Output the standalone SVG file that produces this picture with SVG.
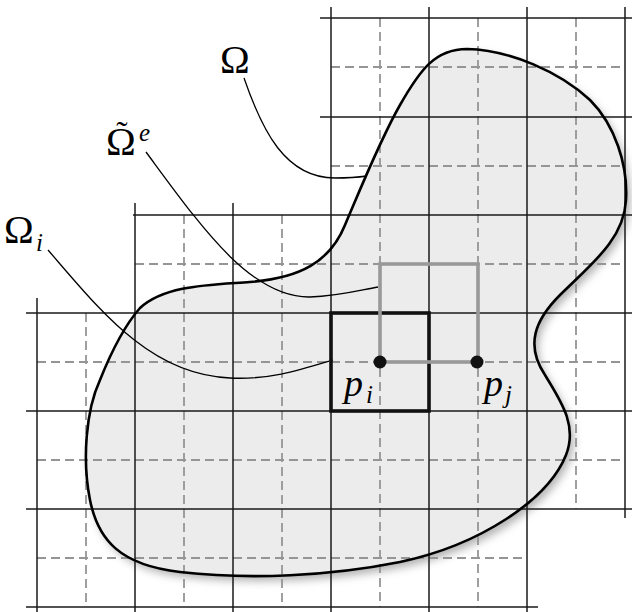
<svg xmlns="http://www.w3.org/2000/svg" width="632" height="612" viewBox="0 0 632 612">
<defs>
<filter id="shadow" x="-10%" y="-10%" width="130%" height="130%">
<feDropShadow dx="4" dy="5" stdDeviation="4" flood-color="#000" flood-opacity="0.3"/>
</filter>
<path id="omega-path" d="M 467,49 C 510,50 560,72 590,100 C 615,125 628,165 626,200 C 624,240 590,265 560,295 C 535,320 525,345 545,375 C 560,400 578,425 566,455 C 548,500 480,545 400,562 C 330,576 250,580 180,572 C 120,565 98,540 90,500 C 82,460 86,410 100,380 C 112,350 125,325 140,308 C 165,285 210,285 250,282 C 300,278 330,262 345,225 C 360,190 380,140 400,105 C 420,70 435,49 467,49 Z"/>
</defs>
<style>
.g{stroke:#1a1a1a;stroke-width:1.5;fill:none}
.d{stroke:#959595;stroke-width:1.8;stroke-dasharray:9 5;fill:none}
.lead{stroke:#000;stroke-width:1.3;fill:none}
.t{font-family:"Liberation Serif","DejaVu Serif",serif;fill:#000}
.it{font-style:italic}
</style>
<rect width="632" height="612" fill="#fff"/>
<g id="omega-fill">
<use href="#omega-path" fill="#ececec" filter="url(#shadow)"/>
</g>
<g id="grid">
<g class="d">
<line x1="86" y1="313" x2="86" y2="607"/>
<line x1="184" y1="215" x2="184" y2="607"/>
<line x1="282" y1="215" x2="282" y2="607"/>
<line x1="380" y1="18" x2="380" y2="607"/>
<line x1="478" y1="18" x2="478" y2="607"/>
<line x1="576" y1="18" x2="576" y2="509"/>
<line x1="331" y1="67" x2="625" y2="67"/>
<line x1="331" y1="166" x2="625" y2="166"/>
<line x1="135" y1="264" x2="625" y2="264"/>
<line x1="37" y1="362" x2="625" y2="362"/>
<line x1="37" y1="460" x2="625" y2="460"/>
<line x1="37" y1="558" x2="527" y2="558"/>
</g>
<g class="g">
<line x1="37" y1="298" x2="37" y2="612"/>
<line x1="135" y1="203" x2="135" y2="612"/>
<line x1="233" y1="203" x2="233" y2="612"/>
<line x1="331" y1="7" x2="331" y2="612"/>
<line x1="429" y1="7" x2="429" y2="612"/>
<line x1="527" y1="7" x2="527" y2="612"/>
<line x1="625" y1="7" x2="625" y2="518"/>
<line x1="320" y1="18" x2="632" y2="18"/>
<line x1="320" y1="117" x2="632" y2="117"/>
<line x1="133" y1="215" x2="632" y2="215"/>
<line x1="26" y1="313" x2="632" y2="313"/>
<line x1="26" y1="411" x2="632" y2="411"/>
<line x1="26" y1="509" x2="632" y2="509"/>
<line x1="26" y1="607" x2="538" y2="607"/>
</g>
</g>
<g id="omega">
<use href="#omega-path" fill="none" stroke="#000" stroke-width="2.6"/>
</g>
<g id="connectors">
<path class="lead" d="M 244,78 C 262,130 285,178 335,178 C 350,178 360,177 367,176"/>
<path class="lead" d="M 146,152 C 200,225 250,298 310,297 C 340,296 360,290 378,287"/>
<path class="lead" d="M 48,250 C 100,310 150,375 230,378 C 270,380 300,370 333,360"/>
</g>
<g id="omega-i-cell">
<rect x="331" y="313" width="98" height="98" fill="none" stroke="#111" stroke-width="3.6"/>
</g>
<g id="omega-e-cell">
<rect x="380" y="264" width="98" height="98" fill="none" stroke="#999" stroke-width="3.6"/>
</g>
<g id="p-i">
<circle cx="380" cy="362" r="6.5" fill="#111"/>
<text class="t it" x="344" y="396" font-size="38">p</text>
<text class="t it" x="366" y="403" font-size="25">i</text>
</g>
<g id="p-j">
<circle cx="477" cy="362" r="6.5" fill="#111"/>
<text class="t it" x="484" y="396" font-size="38">p</text>
<text class="t it" x="505" y="403" font-size="25">j</text>
</g>
<g id="label-omega">
<text class="t" x="220" y="73" font-size="40">Ω</text>
</g>
<g id="label-omega-e">
<text class="t" x="106" y="155" font-size="40">Ω</text>
<text class="t" x="122" y="145" font-size="34" text-anchor="middle">˜</text>
<text class="t it" x="139" y="141" font-size="25">e</text>
</g>
<g id="label-omega-i">
<text class="t" x="4" y="243" font-size="40">Ω</text>
<text class="t it" x="36" y="251" font-size="25">i</text>
</g>
</svg>
